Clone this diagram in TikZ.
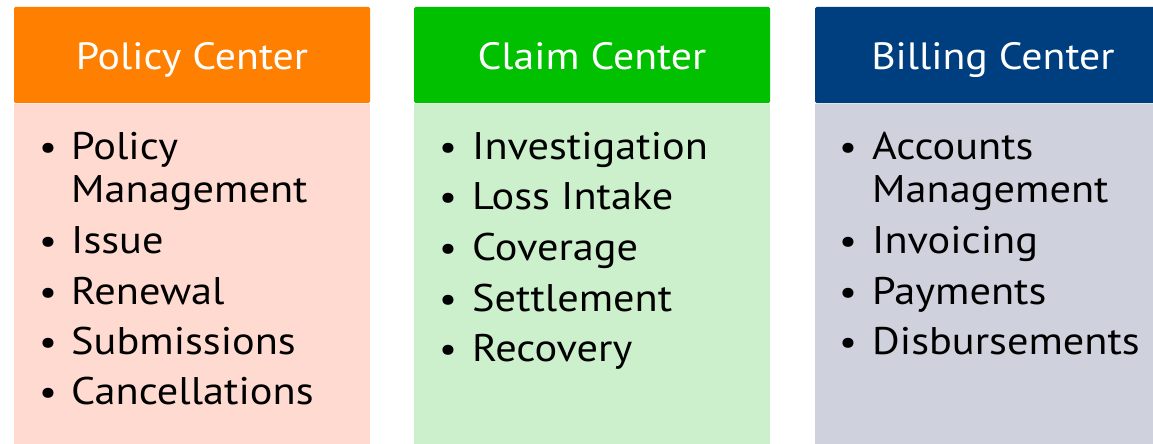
\documentclass[tikz,border=0pt]{standalone}
\usepackage{fontspec}
\setmainfont{PT Sans}[FakeStretch=1.1]
\definecolor{orHead}{HTML}{FF7F00}
\definecolor{orBody}{HTML}{FFDAD0}
\definecolor{grHead}{HTML}{00C000}
\definecolor{grBody}{HTML}{CCF0CC}
\definecolor{blHead}{HTML}{003F7F}
\definecolor{blBody}{HTML}{CFD2DC}
\tikzset{
  headtxt/.style={text=white, font=\fontsize{38}{44}\selectfont, anchor=base, inner sep=0pt},
  item/.style={anchor=base west, inner sep=0pt, font=\fontsize{38.5}{44}\selectfont, text=black},
  bul/.style={anchor=base, inner sep=0pt, font=\fontsize{36}{44}\selectfont, text=black},
}
\begin{document}
\begin{tikzpicture}[x=1pt,y=-1pt]
\useasboundingbox (0,0) rectangle (1153,444);
\fill[white] (0,0) rectangle (1153,444);
% columns
\foreach \xl/\xr/\hc/\bc in {14/370/orHead/orBody, 414/770/grHead/grBody, 815/1160/blHead/blBody}{
  \fill[\bc] (\xl,103) rectangle (\xr,450);
  \fill[\hc, rounded corners=1.5pt] (\xl,7) rectangle (\xr,103);
  \draw[white, opacity=0.6, line width=1pt] (\xl,103.5) -- (\xr,103.5);
}
\node[headtxt] (h1) at (192,70) {Policy Center};
\node[headtxt] (h2) at (592,70) {Claim Center};
\node[headtxt] (h3) at (993,70) {Billing Center};
% Policy
\node[bul] (pb1) at (48,159) {•}; \node[item] (p1) at (71,159) {Policy};
\node[item] (p1b) at (71,202) {Management};
\node[bul] (pb2) at (48,253) {•}; \node[item] (p2) at (71,253) {Issue};
\node[bul] (pb3) at (48,304) {•}; \node[item] (p3) at (71,304) {Renewal};
\node[bul] (pb4) at (48,354) {•}; \node[item] (p4) at (71,354) {Submissions};
\node[bul] (pb5) at (48,404) {•}; \node[item] (p5) at (71,404) {Cancellations};
% Claim
\node[bul] (cb1) at (448,159) {•}; \node[item] (c1) at (472,159) {Investigation};
\node[bul] (cb2) at (448,209) {•}; \node[item] (c2) at (472,209) {Loss Intake};
\node[bul] (cb3) at (448,260) {•}; \node[item] (c3) at (472,260) {Coverage};
\node[bul] (cb4) at (448,311) {•}; \node[item] (c4) at (472,311) {Settlement};
\node[bul] (cb5) at (448,361) {•}; \node[item] (c5) at (472,361) {Recovery};
% Billing
\node[bul] (bb1) at (848,159) {•}; \node[item] (b1) at (872,159) {Accounts};
\node[item] (b1b) at (872,202) {Management};
\node[bul] (bb2) at (848,253) {•}; \node[item] (b2) at (872,253) {Invoicing};
\node[bul] (bb3) at (848,304) {•}; \node[item] (b3) at (872,304) {Payments};
\node[bul] (bb4) at (848,354) {•}; \node[item] (b4) at (872,354) {Disbursements};
\end{tikzpicture}
\end{document}
